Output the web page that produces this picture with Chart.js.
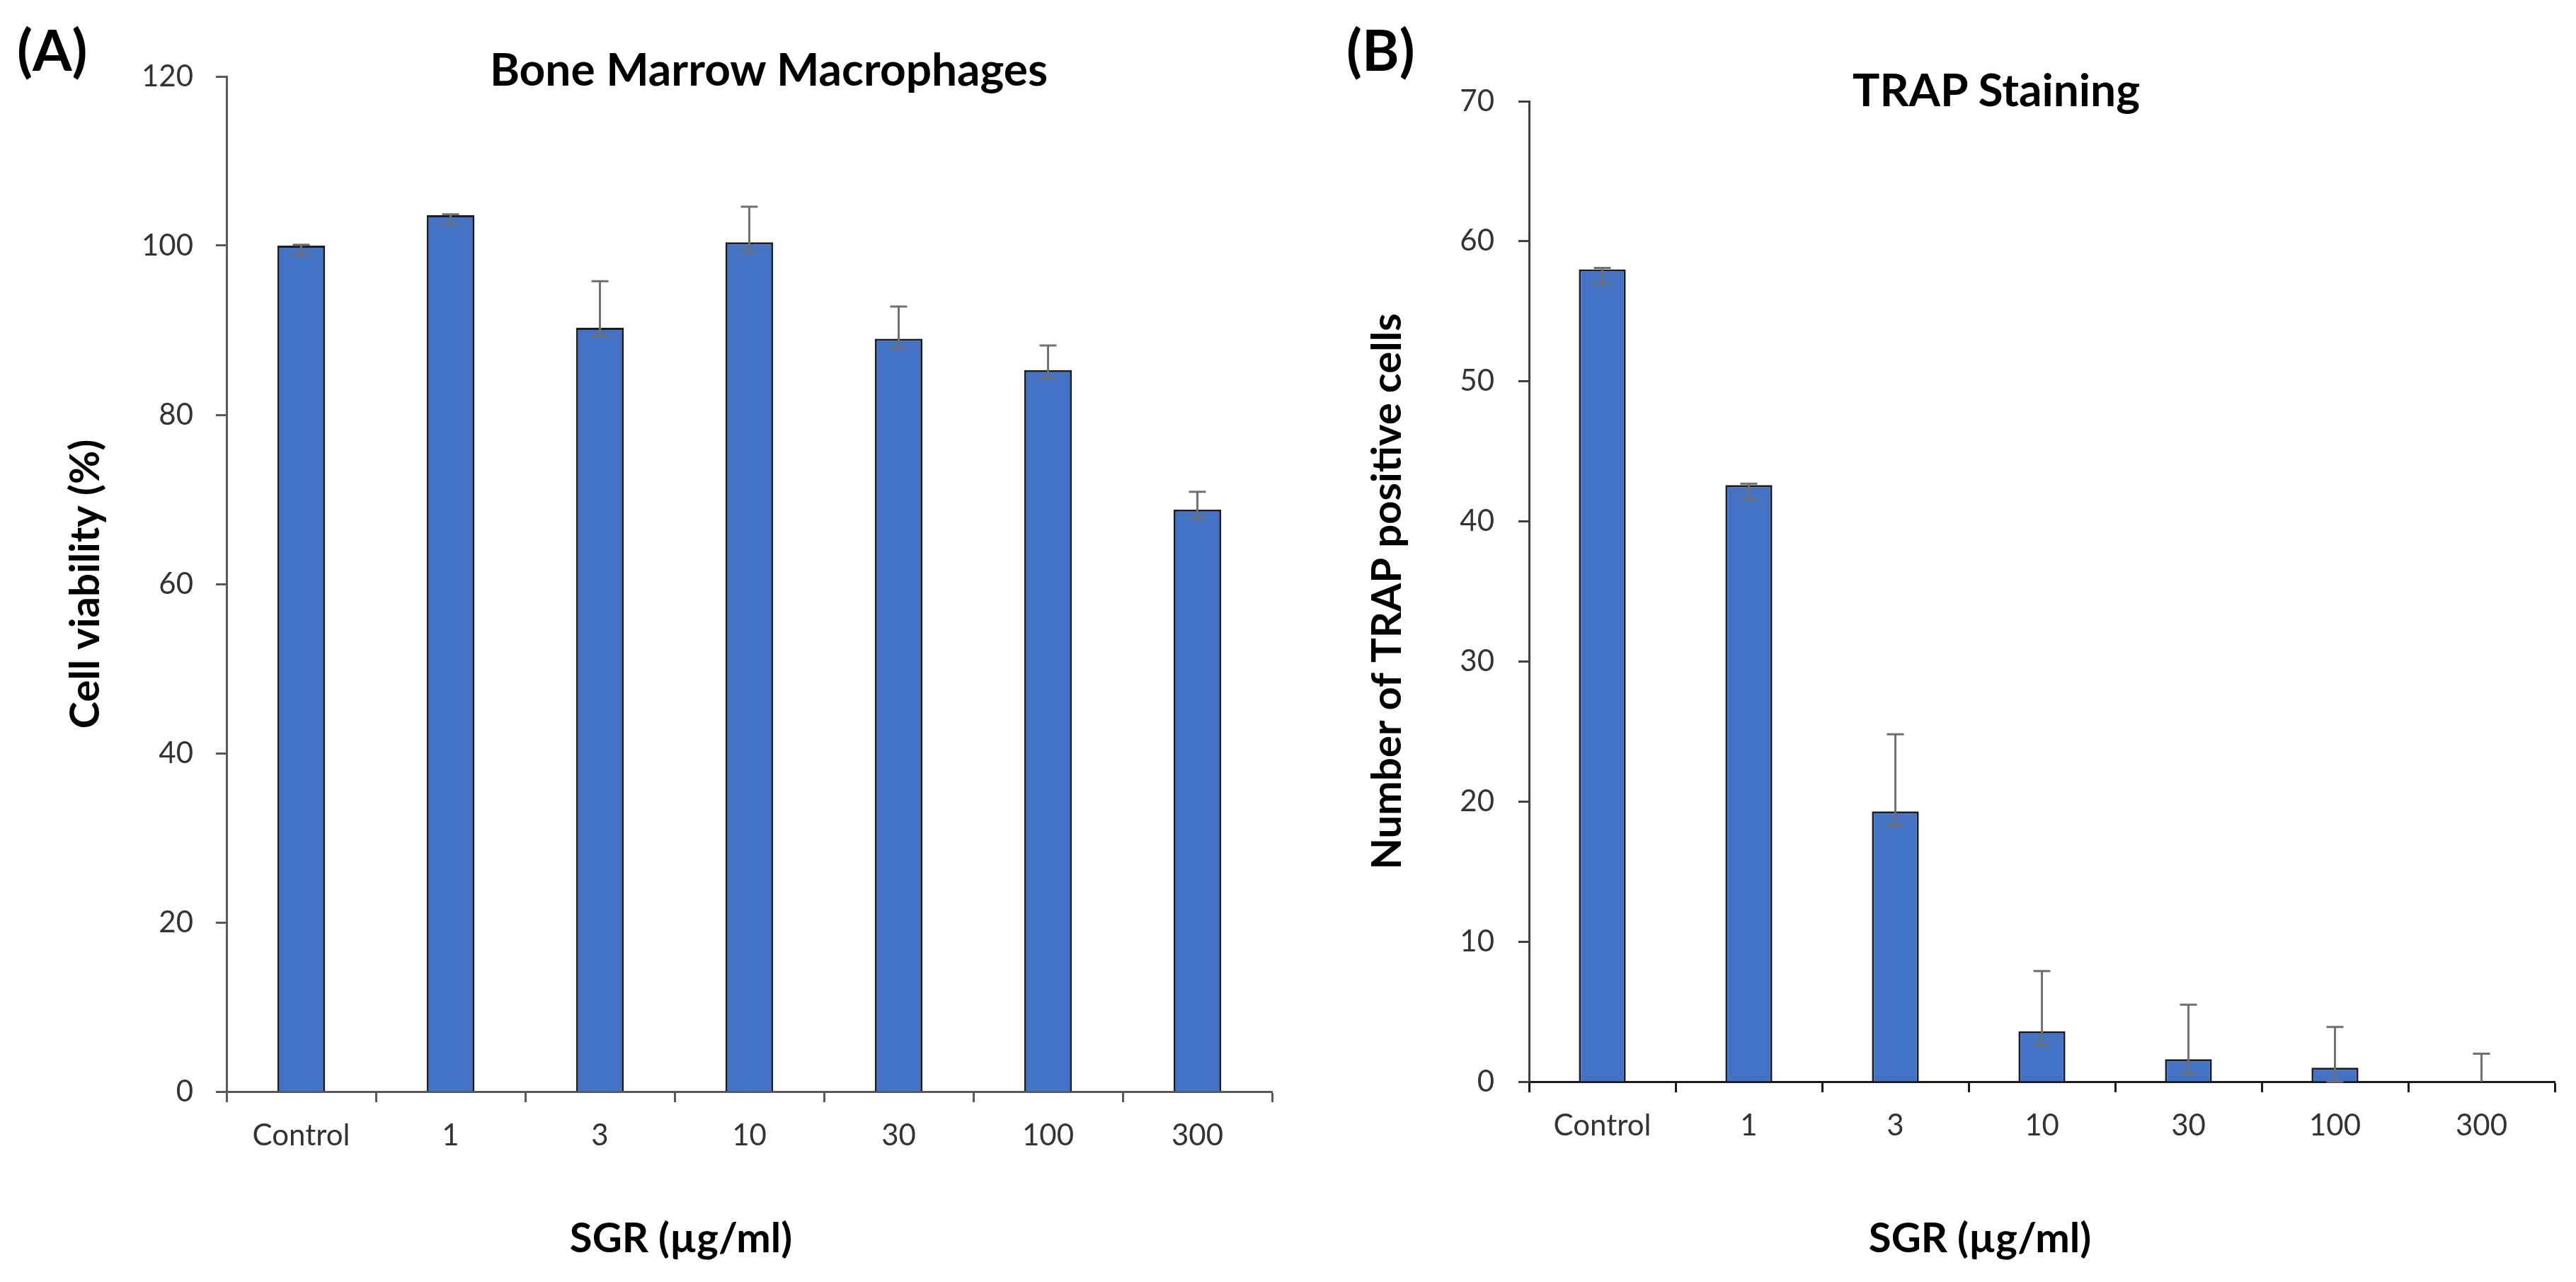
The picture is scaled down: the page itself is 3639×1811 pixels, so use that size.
<!DOCTYPE html>
<html>
<head>
<meta charset="utf-8">
<script src="https://cdn.jsdelivr.net/npm/chart.js@4.4.1/dist/chart.umd.min.js"></script>
<style>
  html, body { margin: 0; padding: 0; background: #fff; width: 3639px; height: 1811px; overflow: hidden; }
  canvas { position: absolute; top: 0; }
  .txt { position: absolute; font-family: Lato, sans-serif; font-weight: bold; color: #000; white-space: nowrap; line-height: 1; }
  .mid { transform: translateX(-50%); }
</style>
</head>
<body>
<canvas id="chartA" width="1820" height="1811" style="left:0"></canvas>
<canvas id="chartB" width="1819" height="1811" style="left:1820px"></canvas>

<div class="txt" style="left:24px;top:29px;font-size:80px">(A)</div>
<div class="txt" style="left:1902px;top:29px;font-size:80px">(B)</div>
<div class="txt mid" style="left:1086px;top:65px;font-size:64px">Bone Marrow Macrophages</div>
<div class="txt mid" style="left:2820px;top:94px;font-size:64px">TRAP Staining</div>
<div class="txt mid" style="left:962px;top:1718px;font-size:58px">SGR (µg/ml)</div>
<div class="txt mid" style="left:2797px;top:1718px;font-size:58px">SGR (µg/ml)</div>

<script>
// doses on the x axis (both panels)
const doses = ['Control', '1', '3', '10', '30', '100', '300'];

// (A) cell viability, %
const viability = [100.0, 103.6, 90.3, 100.4, 89.0, 85.3, 68.8];
const viabilityErrUp = [0.1, 0.1, 5.5, 4.2, 3.8, 2.9, 2.1];
const viabilityErrDown = [1.1, 1.0, 1.0, 1.1, 1.1, 1.0, 1.0];
const viabilityTicks = [0, 20, 40, 60, 80, 100, 120];

// (B) TRAP positive cells
const trapCells = [58.0, 42.6, 19.3, 3.6, 1.6, 1.0, 0];
const trapErrUp = [0.1, 0.1, 5.5, 4.3, 3.9, 2.9, 2.0];
const trapErrDown = [1.0, 1.0, 1.0, 1.0, 1.0, 1.0, 0];
const trapTicks = [0, 10, 20, 30, 40, 50, 60, 70];

// draws the error bars on top of the bars, through the y scale
const errorBars = {
  id: 'errorBars',
  afterDatasetsDraw(chart) {
    const { ctx } = chart;
    const y = chart.scales.y;
    const ds = chart.data.datasets[0];
    const meta = chart.getDatasetMeta(0);
    const half = 12;
    ctx.save();
    ctx.strokeStyle = '#707070';
    ctx.lineWidth = 3;
    meta.data.forEach((bar, i) => {
      const top = y.getPixelForValue(ds.data[i] + ds.errUp[i]);
      const bot = y.getPixelForValue(ds.data[i] - ds.errDown[i]);
      ctx.beginPath();
      ctx.moveTo(bar.x, top);
      ctx.lineTo(bar.x, bot);
      ctx.moveTo(bar.x - half, top);
      ctx.lineTo(bar.x + half, top);
      if (ds.errDown[i] > 0) {
        ctx.moveTo(bar.x - half, bot);
        ctx.lineTo(bar.x + half, bot);
      }
      ctx.stroke();
    });
    ctx.restore();
  }
};

function makeChart(id, values, errUp, errDown, ticks, yTitle, box) {
  return new Chart(document.getElementById(id), {
    type: 'bar',
    data: {
      labels: doses,
      datasets: [{
        data: values,
        errUp: errUp,
        errDown: errDown,
        backgroundColor: '#4472C4',
        borderColor: '#1a1d26',
        borderWidth: 3,
        barPercentage: 0.32,
        categoryPercentage: 1
      }]
    },
    options: {
      responsive: false,
      devicePixelRatio: 1,
      animation: false,
      layout: { padding: { top: box.top, right: box.right, bottom: 0, left: 0 } },
      plugins: {
        legend: { display: false },
        tooltip: { enabled: false }
      },
      scales: {
        x: {
          grid: { drawOnChartArea: false, tickLength: 15, tickWidth: 3, tickColor: box.xColor, offset: true },
          border: { color: box.xColor, width: 3 },
          ticks: { color: '#333', font: { family: 'Lato', size: 42 }, padding: 22, maxRotation: 0, autoSkip: false },
          afterFit: s => { s.height = box.xHeight; }
        },
        y: {
          min: ticks[0],
          max: ticks[ticks.length - 1],
          grid: { drawOnChartArea: false, tickLength: 15, tickWidth: 3, tickColor: box.yColor },
          border: { color: box.yColor, width: 3 },
          ticks: { stepSize: ticks[1] - ticks[0], color: '#333', font: { family: 'Lato', size: 42 }, padding: box.tickPad },
          title: {
            display: true,
            text: yTitle,
            color: '#000',
            font: { family: 'Lato', size: 58, weight: 'bold' },
            padding: { top: box.titlePad, bottom: 0 }
          },
          afterFit: s => { s.width = box.yWidth; }
        }
      }
    },
    plugins: [errorBars]
  });
}

makeChart('chartA', viability, viabilityErrUp, viabilityErrDown, viabilityTicks, 'Cell viability (%)',
  { top: 108, right: 23, yWidth: 320, xHeight: 269, titlePad: 86, tickPad: 32, xColor: '#595959', yColor: '#595959' });

makeChart('chartB', trapCells, trapErrUp, trapErrDown, trapTicks, 'Number of TRAP positive cells',
  { top: 143, right: 30, yWidth: 340, xHeight: 283, titlePad: 105, tickPad: 34, xColor: '#1a1a1a', yColor: '#404040' });
</script>
</body>
</html>
